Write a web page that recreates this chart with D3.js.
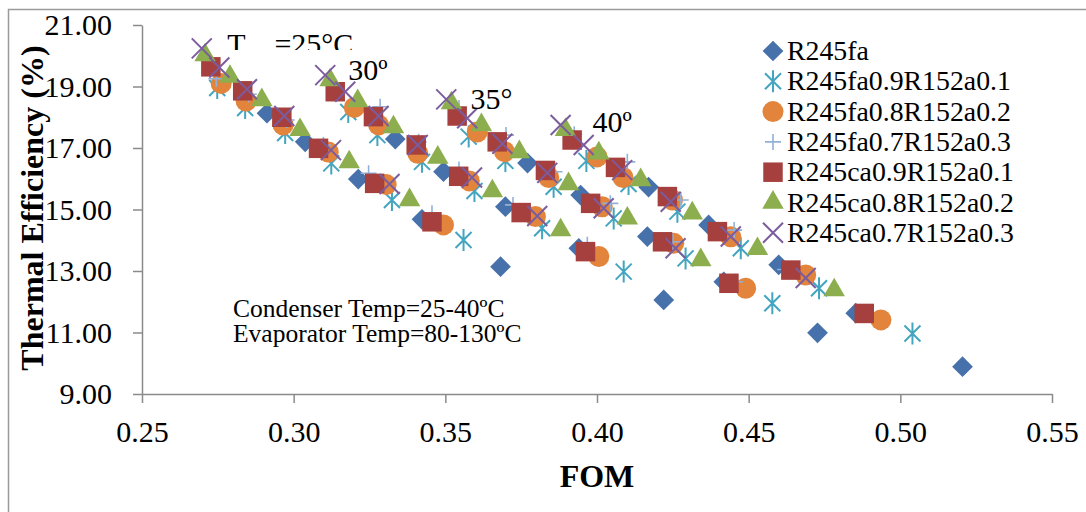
<!DOCTYPE html>
<html>
<head>
<meta charset="utf-8">
<script src="https://cdn.jsdelivr.net/npm/d3@7"></script>
<style>
body { margin: 0; background: #fff; }
svg { display: block; }
text { font-family: "Liberation Serif", "Times New Roman", serif; fill: #000; }
</style>
</head>
<body>
<svg id="chart" width="1086" height="512"></svg>
<script>
"use strict";

// FOM / thermal efficiency pairs, grouped by condenser temp 25, 30, 35, 40
const r245fa = [
    [0.2912, 18.13], [0.3038, 17.20], [0.3213, 15.99], [0.3423, 14.68], [0.3682, 13.14],
    [0.3335, 17.29], [0.3494, 16.23], [0.3698, 15.09], [0.3940, 13.74], [0.4220, 12.06],
    [0.3771, 16.51], [0.3946, 15.47], [0.4166, 14.12], [0.4418, 12.65], [0.4727, 10.99],
    [0.4170, 15.73], [0.4368, 14.50], [0.4599, 13.20], [0.4853, 11.63], [0.5205, 9.89]
];
const r245fa09 = [
    [0.2748, 18.95], [0.2840, 18.30], [0.2972, 17.49], [0.3124, 16.50], [0.3324, 15.31], [0.3560, 14.01],
    [0.3180, 18.17], [0.3276, 17.42], [0.3423, 16.55], [0.3596, 15.60], [0.3819, 14.39], [0.4088, 12.98],
    [0.3577, 17.37], [0.3698, 16.58], [0.3857, 15.74], [0.4055, 14.71], [0.4292, 13.41], [0.4578, 11.95],
    [0.3965, 16.58], [0.4104, 15.83], [0.4265, 14.93], [0.4474, 13.74], [0.4732, 12.44], [0.5040, 10.97]
];
const r245fa08 = [
    [0.2761, 19.10], [0.2843, 18.53], [0.2965, 17.75], [0.3114, 16.87], [0.3305, 15.81], [0.3494, 14.50],
    [0.3200, 18.32], [0.3280, 17.75], [0.3409, 16.83], [0.3579, 15.93], [0.3797, 14.77], [0.4006, 13.47],
    [0.3605, 17.52], [0.3695, 16.88], [0.3841, 16.04], [0.4017, 15.09], [0.4253, 13.90], [0.4490, 12.44],
    [0.4000, 16.71], [0.4086, 16.04], [0.4249, 15.31], [0.4441, 14.11], [0.4688, 12.87], [0.4936, 11.41]
];
const r245fa07 = [
    [0.2745, 19.25], [0.2852, 18.75], [0.2977, 17.91], [0.3098, 17.10], [0.3247, 16.18], [0.3456, 14.88],
    [0.3130, 19.05], [0.3285, 18.34], [0.3412, 17.20], [0.3545, 16.30], [0.3723, 15.15], [0.3968, 13.85],
    [0.3545, 18.30], [0.3700, 17.42], [0.3860, 16.23], [0.4044, 15.20], [0.4250, 13.95], [0.4455, 12.65],
    [0.3925, 17.45], [0.4100, 16.55], [0.4276, 15.31], [0.4452, 14.33], [0.4620, 13.05], [0.4885, 11.62]
];
const r245ca09 = [
    [0.2727, 19.64], [0.2832, 18.86], [0.2961, 18.00], [0.3082, 16.99], [0.3267, 15.85], [0.3456, 14.60],
    [0.3137, 18.83], [0.3263, 18.02], [0.3404, 17.10], [0.3544, 16.08], [0.3750, 14.90], [0.3962, 13.63],
    [0.3539, 18.04], [0.3671, 17.20], [0.3830, 16.27], [0.3979, 15.20], [0.4216, 13.95], [0.4435, 12.60],
    [0.3918, 17.26], [0.4061, 16.37], [0.4232, 15.42], [0.4397, 14.28], [0.4639, 13.03], [0.4881, 11.62]
];
const r245ca08 = [
    [0.2708, 20.02], [0.2790, 19.32], [0.2895, 18.56], [0.3021, 17.59], [0.3183, 16.54], [0.3382, 15.31],
    [0.3120, 19.21], [0.3211, 18.53], [0.3329, 17.68], [0.3475, 16.69], [0.3655, 15.60], [0.3880, 14.33],
    [0.3520, 18.46], [0.3619, 17.75], [0.3744, 16.87], [0.3906, 15.83], [0.4100, 14.71], [0.4342, 13.36],
    [0.3896, 17.59], [0.4006, 16.83], [0.4144, 15.96], [0.4314, 14.88], [0.4529, 13.72], [0.4782, 12.38]
];
const r245ca07 = [
    [0.2697, 20.24], [0.2755, 19.62], [0.2846, 18.91], [0.2969, 18.04], [0.3123, 16.93], [0.3316, 15.83],
    [0.3104, 19.37], [0.3170, 18.83], [0.3280, 18.04], [0.3409, 17.10], [0.3588, 16.04], [0.3803, 14.79],
    [0.3503, 18.58], [0.3572, 17.97], [0.3688, 17.14], [0.3836, 16.19], [0.4022, 15.04], [0.4259, 13.74],
    [0.3880, 17.75], [0.3956, 17.10], [0.4083, 16.28], [0.4243, 15.25], [0.4441, 14.12], [0.4688, 12.77]
];

const seriesNames = ["R245fa", "R245fa0.9R152a0.1", "R245fa0.8R152a0.2", "R245fa0.7R152a0.3",
    "R245ca0.9R152a0.1", "R245ca0.8R152a0.2", "R245ca0.7R152a0.3"];
const seriesData = [r245fa, r245fa09, r245fa08, r245fa07, r245ca09, r245ca08, r245ca07];

const xTicks = [0.25, 0.30, 0.35, 0.40, 0.45, 0.50, 0.55];
const yTicks = [9, 11, 13, 15, 17, 19, 21];

// condenser temperature labels [text, fom, efficiency]
const tconLabels = [["30º", 0.3180, 19.21], ["35°", 0.3583, 18.27], ["40º", 0.3985, 17.52]];
const noteLines = ["Condenser Temp=25-40ºC", "Evaporator Temp=80-130ºC"];

const styles = [
    { kind: "diamond", color: "#4671aa" },
    { kind: "star", color: "#43a5bf" },
    { kind: "circle", color: "#e3843c" },
    { kind: "plus", color: "#93b1d8" },
    { kind: "square", color: "#a5403e" },
    { kind: "triangle", color: "#8dae4e" },
    { kind: "cross", color: "#7b5c9e" }
];

const svg = d3.select("#chart");

const x = d3.scaleLinear().domain([0.25, 0.55]).range([142, 1052]);
const y = d3.scaleLinear().domain([9, 21]).range([394, 25]);

// chart frame
svg.append("rect")
    .attr("x", 8.5).attr("y", 9.5)
    .attr("width", 1100).attr("height", 520)
    .attr("fill", "none")
    .attr("stroke", "#9a9a9a")
    .attr("stroke-width", 1.5);

function styleAxis(g) {
    g.selectAll("path, line").attr("stroke", "#8a8a8a").attr("stroke-width", 1.5);
    g.selectAll("text")
        .style("font-family", '"Liberation Serif", "Times New Roman", serif')
        .attr("font-size", 30)
        .attr("fill", "#000");
}

svg.append("g")
    .attr("transform", "translate(0,394)")
    .call(d3.axisBottom(x).tickValues(xTicks).tickFormat(d3.format(".2f")).tickSize(9).tickPadding(18).tickSizeOuter(0))
    .call(styleAxis);

svg.append("g")
    .attr("transform", "translate(142,0)")
    .call(d3.axisLeft(y).tickValues(yTicks).tickFormat(d3.format(".2f")).tickSize(9).tickPadding(21).tickSizeOuter(0))
    .call(styleAxis);

// axis titles
svg.append("text")
    .attr("x", 597).attr("y", 487)
    .attr("text-anchor", "middle")
    .attr("font-size", 32)
    .attr("font-weight", "bold")
    .text("FOM");

svg.append("text")
    .attr("transform", "translate(43,208) rotate(-90)")
    .attr("text-anchor", "middle")
    .attr("font-size", 32)
    .attr("font-weight", "bold")
    .text("Thermal Efficiency (%)");

function drawMarker(g, kind, color, cx, cy) {
    const t = `translate(${cx},${cy})`;
    if (kind === "diamond") {
        g.append("path").attr("d", d3.symbol(d3.symbolSquare, 215)())
            .attr("transform", t + " rotate(45)").attr("fill", color);
    } else if (kind === "square") {
        g.append("path").attr("d", d3.symbol(d3.symbolSquare, 380)())
            .attr("transform", t).attr("fill", color);
    } else if (kind === "circle") {
        g.append("circle").attr("cx", cx).attr("cy", cy).attr("r", 10.5).attr("fill", color);
    } else if (kind === "triangle") {
        g.append("path").attr("d", d3.symbol(d3.symbolTriangle, 200)())
            .attr("transform", t).attr("fill", color);
    } else {
        let h = 10;
        let d;
        if (kind === "cross") {
            d = `M${-h},${-h}L${h},${h}M${-h},${h}L${h},${-h}`;
        } else if (kind === "star") {
            let k = 8;
            d = `M${-k},${-k}L${k},${k}M${-k},${k}L${k},${-k}M0,${-h - 1}L0,${h + 1}`;
        } else {
            h = 8;
            d = `M${-h},0L${h},0M0,${-h}L0,${h}`;
        }
        g.append("path").attr("d", d)
            .attr("transform", t)
            .attr("fill", "none")
            .attr("stroke", color)
            .attr("stroke-width", kind === "plus" ? 1.6 : 2);
    }
}

// data points
const plot = svg.append("g");
seriesData.forEach((data, i) => {
    const g = plot.append("g");
    for (let p of data) {
        drawMarker(g, styles[i].kind, styles[i].color, x(p[0]), y(p[1]));
    }
});

// legend
const legend = svg.append("g");
seriesNames.forEach((name, i) => {
    const base = 60 + 30.3 * i;
    drawMarker(legend, styles[i].kind, styles[i].color, 773, base - 9);
    legend.append("text")
        .attr("x", 787).attr("y", base)
        .attr("font-size", 27.8)
        .text(name);
});

// condenser temperature labels
svg.append("clipPath").attr("id", "topclip")
    .append("rect").attr("x", 0).attr("y", 0).attr("width", 1086).attr("height", 50);

const t25 = svg.append("text")
    .attr("clip-path", "url(#topclip)")
    .attr("x", x(0.2781)).attr("y", y(20.06))
    .attr("font-size", 30);
t25.append("tspan").text("T");
t25.append("tspan").attr("font-size", 20).attr("dy", 8).text("con");
t25.append("tspan").attr("dy", -8).text("=25°C");

svg.selectAll(".tcon")
    .data(tconLabels)
    .join("text")
    .attr("class", "tcon")
    .attr("x", d => x(d[1]))
    .attr("y", d => y(d[2]))
    .attr("font-size", 30)
    .text(d => d[0]);

// conditions note
svg.selectAll(".note")
    .data(noteLines)
    .join("text")
    .attr("class", "note")
    .attr("x", x(0.2800))
    .attr("y", (d, i) => y(11.50 - 0.81 * i))
    .attr("font-size", 25.5)
    .text(d => d);
</script>
</body>
</html>
